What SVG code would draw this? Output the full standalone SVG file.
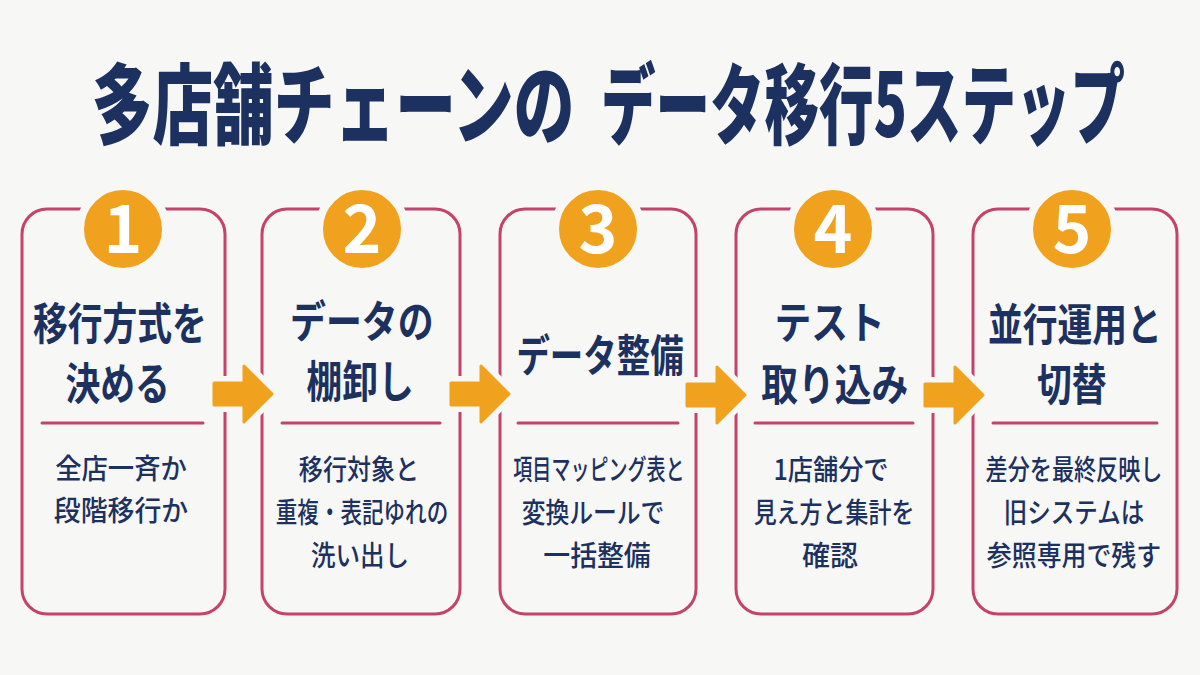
<svg xmlns="http://www.w3.org/2000/svg" width="1200" height="675" viewBox="0 0 1200 675">
  <defs>
    <style>
      .bg { fill: #F7F7F5; }
      .card { fill: none; stroke: #C4426C; stroke-width: 3; }
      .div { stroke: #C4426C; stroke-width: 3; stroke-linecap: round; }
      .badge { fill: #F0A21E; stroke: #F7F7F5; stroke-width: 8; }
      .num { fill: #FFFFFF; font-family: "Noto Sans CJK JP", "Noto Sans", sans-serif; font-weight: 700; font-size: 66px; text-anchor: middle; }
      .title { fill: #1C3160; font-family: "Noto Sans CJK JP", sans-serif; font-weight: 900; font-size: 88px; text-anchor: middle; }
      .head { fill: #1C3160; font-family: "Noto Sans CJK JP", sans-serif; font-weight: 700; font-size: 44px; text-anchor: middle; }
      .body { fill: #1C3160; font-family: "Noto Sans CJK JP", sans-serif; font-weight: 500; font-size: 28px; text-anchor: middle; }
      .arrow { fill: #F0A21E; stroke: #F0A21E; stroke-width: 3; stroke-linejoin: round; }
      .halo { fill: #F7F7F5; stroke: #F7F7F5; stroke-width: 14; stroke-linejoin: round; }
    </style>
    <path id="arr" d="M0 -11 H30 V-28 L58 0 L30 28 V11 H0 Z"/>
  </defs>
  <rect class="bg" x="0" y="0" width="1200" height="675"/>

  <g id="title">
    <text class="title" transform="translate(333 137) scale(0.69 1)" x="0" y="0">多店舗チェーンの</text>
    <text class="title" transform="translate(863 137) scale(0.62 1)" x="0" y="0">データ移行5ステップ</text>
  </g>

  <g id="step1">
    <rect class="card" x="22" y="209" width="203" height="405" rx="25"/>
    <line class="div" x1="42" y1="423" x2="203" y2="423"/>
    <circle class="badge" cx="123" cy="229" r="43"/>
    <text class="num" x="123" y="253">1</text>
    <text class="head" transform="translate(120 0) scale(0.79 1)"><tspan x="0" y="340.5">移行方式を</tspan><tspan x="-3" y="400.5">決める</tspan></text>
    <text class="body" transform="translate(121 479) scale(0.94 1)" x="0" y="0">全店一斉か</text>
    <text class="body" transform="translate(121 521) scale(0.96 1)" x="0" y="0">段階移行か</text>
  </g>

  <g id="step2">
    <rect class="card" x="262" y="209" width="198" height="405" rx="25"/>
    <line class="div" x1="282" y1="423" x2="440" y2="423"/>
    <circle class="badge" cx="362" cy="229" r="43"/>
    <text class="num" x="362" y="253">2</text>
    <text class="head" transform="translate(361 0) scale(0.815 1)"><tspan x="1" y="338.5">データの</tspan><tspan x="-1" y="398.5">棚卸し</tspan></text>
    <text class="body" transform="translate(359 480) scale(0.86 1)" x="0" y="0">移行対象と</text>
    <text class="body" transform="translate(362 523) scale(0.77 1)" x="0" y="0">重複・表記ゆれの</text>
    <text class="body" transform="translate(360 566) scale(0.875 1)" x="0" y="0">洗い出し</text>
  </g>

  <g id="step3">
    <rect class="card" x="500" y="209" width="196" height="405" rx="25"/>
    <line class="div" x1="518" y1="423" x2="678" y2="423"/>
    <circle class="badge" cx="598" cy="229" r="43"/>
    <text class="num" x="598" y="253">3</text>
    <text class="head" transform="translate(600 371.5) scale(0.76 1)" x="0" y="0">データ整備</text>
    <text class="body" transform="translate(599 480) scale(0.68 1)" x="0" y="0">項目マッピング表と</text>
    <text class="body" transform="translate(593 523) scale(0.85 1)" x="0" y="0">変換ルールで</text>
    <text class="body" transform="translate(597 566) scale(0.96 1)" x="0" y="0">一括整備</text>
  </g>

  <g id="step4">
    <rect class="card" x="736" y="209" width="197" height="405" rx="25"/>
    <line class="div" x1="755" y1="423" x2="913" y2="423"/>
    <circle class="badge" cx="833" cy="229" r="43"/>
    <text class="num" x="833" y="253">4</text>
    <text class="head" transform="translate(833 0) scale(0.835 1)"><tspan x="-4" y="339.5">テスト</tspan><tspan x="2" y="401.5">取り込み</tspan></text>
    <text class="body" transform="translate(831 480) scale(0.9 1)" x="0" y="0">1店舗分で</text>
    <text class="body" transform="translate(834 523) scale(0.82 1)" x="0" y="0">見え方と集計を</text>
    <text class="body" transform="translate(830 566)" x="0" y="0">確認</text>
  </g>

  <g id="step5">
    <rect class="card" x="973" y="209" width="204" height="405" rx="25"/>
    <line class="div" x1="993" y1="423" x2="1157" y2="423"/>
    <circle class="badge" cx="1072" cy="229" r="43"/>
    <text class="num" x="1072" y="253">5</text>
    <text class="head" transform="translate(1074 0) scale(0.79 1)"><tspan x="1" y="341.5">並行運用と</tspan><tspan x="-3" y="401.5">切替</tspan></text>
    <text class="body" transform="translate(1074 480) scale(0.79 1)" x="0" y="0">差分を最終反映し</text>
    <text class="body" transform="translate(1074 523) scale(0.84 1)" x="0" y="0">旧システムは</text>
    <text class="body" transform="translate(1074 566) scale(0.89 1)" x="0" y="0">参照専用で残す</text>
  </g>

  <g id="connectors">
    <use href="#arr" class="halo" x="214" y="394"/>
    <use href="#arr" class="arrow" x="214" y="394"/>
    <use href="#arr" class="halo" x="451" y="394"/>
    <use href="#arr" class="arrow" x="451" y="394"/>
    <use href="#arr" class="halo" x="687" y="395"/>
    <use href="#arr" class="arrow" x="687" y="395"/>
    <use href="#arr" class="halo" x="925" y="395"/>
    <use href="#arr" class="arrow" x="925" y="395"/>
  </g>
</svg>
